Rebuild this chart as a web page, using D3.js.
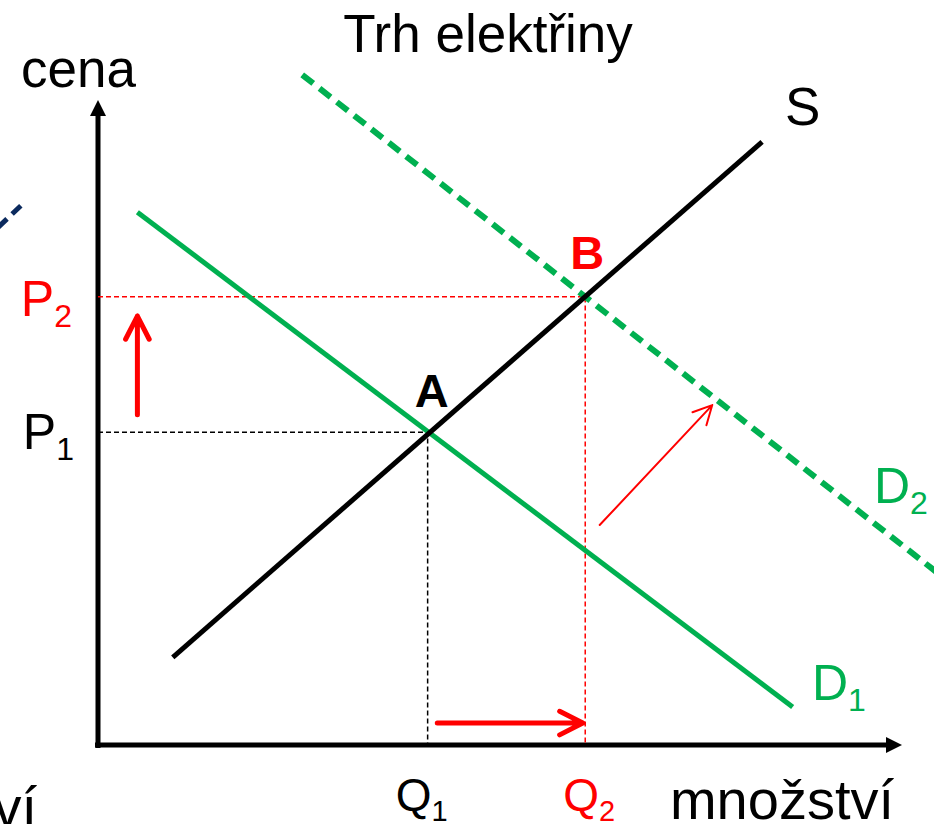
<!DOCTYPE html>
<html>
<head>
<meta charset="utf-8">
<script src="https://cdn.jsdelivr.net/npm/d3@7"></script>
<style>
  body { margin: 0; background: #fff; }
  svg { display: block; font-family: "Liberation Sans", Arial, sans-serif; }
</style>
</head>
<body>
<svg width="934" height="824"></svg>
<script>
var width = 934, height = 824;

var green = "#00b050", red = "#ff0000", navy = "#0b2a5e";

// curves in (quantity, price) units, 0..100 on both axes
var supply = [[9.3, 13.6], [82.6, 93.5]];
var demand1 = [[4.9, 82.6], [86.4, 5.9]];
var demand2 = [[25.4, 103.9], [104.7, 26.4]];
var strayLine = [[-12.4, 80.3], [-9.6, 83.6]];   // bit of the neighbouring slide

var quantities = [41, 60.6];   // Q1, Q2
var prices = [48.5, 69.5];     // P1, P2
var pointNames = ["A", "B"];
var pointColors = ["#000", red];

// red arrows showing the shift
var arrowFrom = [[4.9, 51.2], [42.2, 3.4], [62.4, 34.1]];
var arrowTo = [[4.9, 66.5], [60.3, 3.4], [76.4, 52.7]];
var arrowWidth = [5, 5, 2];

var x = d3.scaleLinear().domain([0, 100]).range([98, 902]);
var y = d3.scaleLinear().domain([0, 100]).range([745, 100]);

var svg = d3.select("svg");
var line = d3.line().x(function(d){ return x(d[0]) }).y(function(d){ return y(d[1]) });

// ---------- axes ----------
var axes = svg.append("g").classed("axes", true);
axes.append("line")
  .attr("x1", x(0)).attr("y1", y(0) + 3)
  .attr("x2", x(0)).attr("y2", y(100) + 12)
  .attr("stroke", "#000").attr("stroke-width", 5);
axes.append("line")
  .attr("x1", x(0) - 3).attr("y1", y(0))
  .attr("x2", x(100) - 12).attr("y2", y(0))
  .attr("stroke", "#000").attr("stroke-width", 5);
axes.append("path")
  .attr("d", "M" + [x(0), y(100)] + "L" + [x(0) - 8, y(100) + 16] + "L" + [x(0) + 8, y(100) + 16] + "Z")
  .attr("fill", "#000");
axes.append("path")
  .attr("d", "M" + [x(100), y(0)] + "L" + [x(100) - 16, y(0) - 8] + "L" + [x(100) - 16, y(0) + 8] + "Z")
  .attr("fill", "#000");

// ---------- guide lines ----------
svg.append("g").selectAll("path")
  .data(quantities)
  .enter().append("path")
    .attr("d", function(q, i){
      return line([[0, prices[i]], [q, prices[i]], [q, 0]]);
    })
    .attr("fill", "none")
    .attr("stroke", function(d, i){ return i == 0 ? "#000" : red })
    .attr("stroke-width", 1.5)
    .attr("stroke-dasharray", "5,3");

// ---------- curves ----------
svg.append("path").datum(strayLine).attr("d", line)
  .attr("stroke", navy).attr("stroke-width", 5).attr("stroke-dasharray", "12,7").attr("fill", "none");
svg.append("path").datum(demand1).attr("d", line)
  .attr("stroke", green).attr("stroke-width", 5).attr("fill", "none");
svg.append("path").datum(demand2).attr("d", line)
  .attr("stroke", green).attr("stroke-width", 6).attr("stroke-dasharray", "14,8").attr("fill", "none");
svg.append("path").datum(supply).attr("d", line)
  .attr("stroke", "#000").attr("stroke-width", 5).attr("fill", "none");

// ---------- arrows ----------
var arrows = svg.append("g").classed("arrows", true);
arrowFrom.forEach(function(f, i){
  var t = arrowTo[i];
  var x1 = x(f[0]), y1 = y(f[1]), x2 = x(t[0]), y2 = y(t[1]);
  var ang = Math.atan2(y2 - y1, x2 - x1);
  var len = arrowWidth[i] > 3 ? 26 : 21;
  var spread = 27 * Math.PI / 180;
  var w1 = [x2 - len * Math.cos(ang - spread), y2 - len * Math.sin(ang - spread)];
  var w2 = [x2 - len * Math.cos(ang + spread), y2 - len * Math.sin(ang + spread)];
  arrows.append("path")
    .attr("d", "M" + [x1, y1] + "L" + [x2, y2] + "M" + w1 + "L" + [x2, y2] + "L" + w2)
    .attr("fill", "none")
    .attr("stroke", red)
    .attr("stroke-width", arrowWidth[i])
    .attr("stroke-linecap", "round")
    .attr("stroke-linejoin", "round");
});

// ---------- text ----------
function label(txt, sub, px, py, color, anchor, size) {
  size = size || 50;
  var t = svg.append("text")
    .attr("x", px).attr("y", py)
    .attr("fill", color)
    .attr("font-size", size)
    .attr("text-anchor", anchor || "start")
    .text(txt);
  if (sub) {
    t.append("tspan").attr("font-size", Math.round(size * 0.64)).attr("dy", size * 0.22).text(sub);
  }
  return t;
}

svg.append("text").attr("x", 488).attr("y", 52).attr("text-anchor", "middle")
  .attr("font-size", 53).text("Trh elektřiny");
svg.append("text").attr("x", 21).attr("y", 87).attr("font-size", 53).text("cena");
svg.append("text").attr("x", 894).attr("y", 819).attr("font-size", 56)
  .attr("text-anchor", "end").text("množství");
svg.append("text").attr("x", 37).attr("y", 826).attr("font-size", 56)
  .attr("text-anchor", "end").text("ví");
svg.append("text").attr("x", 785).attr("y", 125).attr("font-size", 53).text("S");

label("P", "2", 72, y(prices[1]) + 19, red, "end");
label("P", "1", 74, y(prices[0]) + 17, "#000", "end");
label("Q", "1", x(quantities[0]) - 32, 811, "#000", "start", 46);
label("Q", "2", x(quantities[1]) - 22, 811, red, "start", 46);
label("D", "1", 812, 700, green);
label("D", "2", 874, 503, green);

svg.append("g").selectAll("text")
  .data(pointNames)
  .enter().append("text")
    .attr("x", function(d, i){ return x(quantities[i]) + (i == 0 ? 4 : 2) })
    .attr("y", function(d, i){ return y(prices[i]) - (i == 0 ? 25 : 28) })
    .attr("text-anchor", "middle")
    .attr("font-size", 47)
    .attr("font-weight", "bold")
    .attr("fill", function(d, i){ return pointColors[i] })
    .text(function(d){ return d });
</script>
</body>
</html>
